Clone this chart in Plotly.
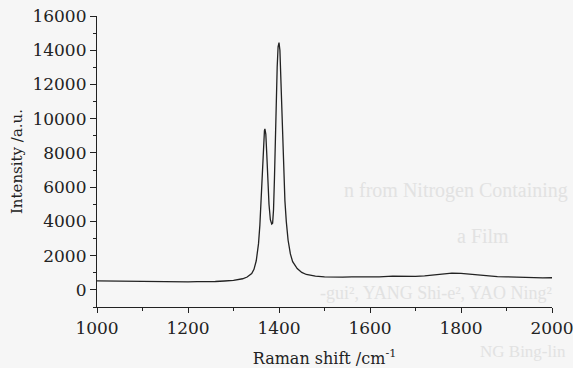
import plotly.graph_objects as go

# Raman spectrum
shift = [1000, 1020, 1040, 1060, 1080, 1100, 1120, 1140, 1160, 1180, 1200, 1220, 1240,
         1260, 1280, 1300, 1320, 1330, 1340, 1345, 1350, 1355, 1358, 1361, 1364, 1366,
         1368, 1369, 1371, 1373, 1375, 1378, 1381, 1384, 1386, 1388, 1390, 1392, 1394,
         1396, 1398, 1400, 1402, 1404, 1406, 1408, 1410, 1413, 1416, 1420, 1425, 1430,
         1440, 1450, 1460, 1480, 1500, 1520, 1540, 1560, 1580, 1600, 1620, 1650, 1680,
         1700, 1720, 1740, 1760, 1780, 1800, 1820, 1840, 1860, 1880, 1900, 1920, 1940,
         1960, 1980, 2000]
intensity = [530, 520, 540, 510, 520, 500, 510, 490, 480, 470, 470, 480, 470,
             490, 520, 560, 650, 750, 950, 1200, 1700, 2700, 3800, 5500, 7500, 8700,
             9300, 9400, 9100, 8000, 6600, 5000, 4100, 3850, 3900, 4700, 6500, 9000, 11200,
             13000, 14200, 14450, 14000, 12500, 10500, 8600, 7000, 5200, 4000, 2900, 2100, 1650,
             1250, 1020, 900, 800, 760, 740, 740, 760, 750, 770, 760, 800, 780,
             790, 820, 880, 940, 980, 970, 920, 860, 810, 780, 760, 740, 730,
             720, 700, 710]

x_tickvals = [1000, 1200, 1400, 1600, 1800, 2000]
x_ticktext = ["1000", "1200", "1400", "1600", "1800", "2000"]
y_tickvals = [0, 2000, 4000, 6000, 8000, 10000, 12000, 14000, 16000]
y_ticktext = ["0", "2000", "4000", "6000", "8000", "10000", "12000", "14000", "16000"]

# faint show-through text visible in the scanned page
ghost_texts = ["n from Nitrogen Containing", "a Film",
               "-gui\u00b2, YANG Shi-e\u00b2, YAO Ning\u00b2", "NG Bing-lin"]

FONT = "DejaVu Serif"
GHOST_FONT = "Liberation Serif"
INK = "#222222"
BG = "#f6f6f6"

L, R, T, B = 97, 552, 16, 307

fig = go.Figure()
fig.add_trace(go.Scatter(x=shift, y=intensity, mode="lines",
                         line=dict(color=INK, width=1.3), showlegend=False))

ghost_pos = [(342, 190, 20), (455, 236, 20), (318, 293, 18), (478, 352, 17)]
for t, (gx, gy, fs) in zip(ghost_texts, ghost_pos):
    fig.add_annotation(text=t, xref="paper", yref="paper",
                       x=(gx - L) / (R - L), y=(B - gy) / (B - T),
                       xanchor="left", yanchor="middle", showarrow=False,
                       font=dict(family=GHOST_FONT, size=fs, color="#e2e2e2"))

fig.update_layout(
    width=573, height=368,
    margin=dict(l=L, r=573 - R, t=T, b=368 - B, autoexpand=False),
    paper_bgcolor=BG, plot_bgcolor=BG,
    font=dict(family=FONT, size=17, color=INK),
    xaxis=dict(range=[1000, 2000], tickvals=x_tickvals, ticktext=x_ticktext,
               automargin=False, ticklabeloverflow="allow",
               ticks="outside", ticklen=5, tickwidth=1.2, tickcolor=INK,
               showline=True, linecolor=INK, linewidth=1.2,
               showgrid=False, zeroline=False,
               minor=dict(dtick=100, ticks="outside", ticklen=3, tickcolor=INK, tickwidth=1.1),
               title=dict(text="Raman shift /cm<sup>-1</sup>", standoff=16,
                          font=dict(family=FONT, size=16, color=INK)),
               tickfont=dict(family=FONT, size=17, color=INK)),
    yaxis=dict(range=[-1000, 16000], tickvals=y_tickvals, ticktext=y_ticktext,
               automargin=False, ticklabeloverflow="allow",
               ticks="outside", ticklen=6, tickwidth=1.2, tickcolor=INK,
               showline=True, linecolor=INK, linewidth=1.2,
               showgrid=False, zeroline=False,
               minor=dict(dtick=1000, ticks="outside", ticklen=3, tickcolor=INK, tickwidth=1.1),
               title=dict(text="Intensity /a.u.", standoff=6,
                          font=dict(family=FONT, size=15, color=INK)),
               tickfont=dict(family=FONT, size=17, color=INK)),
)

fig.write_html("out.html",
               config={"displayModeBar": False},
               post_script="document.body.style.margin='0';"
                           "document.body.style.background='" + BG + "';")
